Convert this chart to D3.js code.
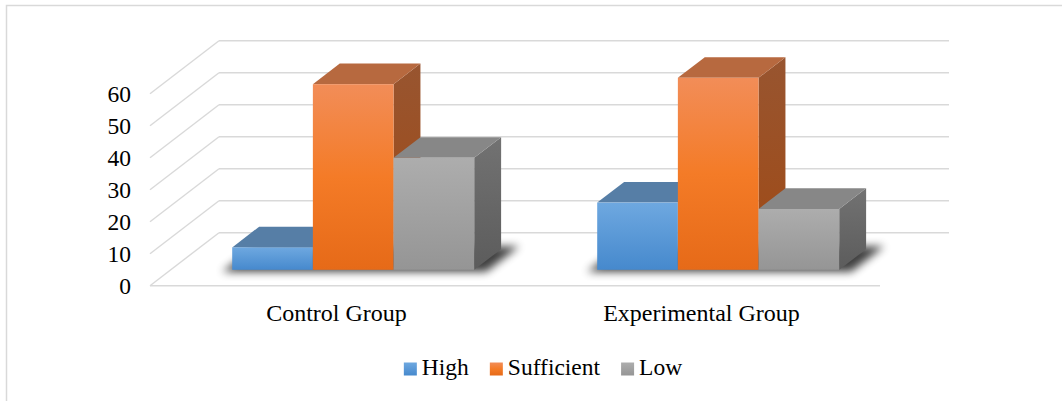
<!DOCTYPE html>
<html>
<head>
<meta charset="utf-8">
<script src="https://cdn.jsdelivr.net/npm/d3@7"></script>
<style>
  html, body { margin: 0; padding: 0; background: #fff; }
  svg { display: block; }
  svg text { font-family: "Liberation Serif", "DejaVu Serif", "Times New Roman", serif; }
</style>
</head>
<body>
<svg id="chart" width="1062" height="401"></svg>
<script>
// Data
const categories = ["Control Group", "Experimental Group"];
const seriesNames = ["High", "Sufficient", "Low"];
const high = [7, 21];
const sufficient = [58, 60];
const low = [35, 19];
const yTicks = [0, 10, 20, 30, 40, 50, 60];

const seriesValues = [high, sufficient, low];
const FONT = "'Liberation Serif', 'DejaVu Serif', 'Times New Roman', serif";

// Colours per series: front gradient (top, bottom), top face, side gradient (top, bottom)
const palette = {
  High:       { front: ["#6ea8e0", "#4689cd"], top: "#567ea6", side: ["#4a6f96", "#3d5f84"] },
  Sufficient: { front: ["#f28d58", "#e66a18"], top: "#b7693f", side: ["#985530", "#a04a15"] },
  Low:        { front: ["#adadad", "#959595"], top: "#878787", side: ["#727272", "#5c5c5c"] }
};

const svg = d3.select("#chart");
const defs = svg.append("defs");

// Outer chart frame
svg.append("rect")
  .attr("x", 6.5).attr("y", 5.5)
  .attr("width", 1100).attr("height", 500)
  .attr("fill", "none").attr("stroke", "#d9d9d9").attr("stroke-width", 1.5);

// 3D frame: back wall, with depth vector toward the viewer
const wall = { left: 219, right: 949, bottom: 232.7, top: 40.7 };
const depth = { dx: -69, dy: 53 };

const y = d3.scaleLinear().domain([0, 60]).range([wall.bottom, wall.top]);
const xCat = d3.scaleBand().domain(categories)
  .range([0, wall.right - wall.left])
  .paddingInner(0.337).paddingOuter(0.1685);
const xSer = d3.scaleBand().domain(seriesNames).range([0, xCat.bandwidth()]);

// Project (horizontal offset along wall, value, depth fraction 0=back..1=front)
function P(x, v, f) {
  return [wall.left + x + depth.dx * f, y(v) + depth.dy * f];
}
const pts = a => a.map(p => p.join(",")).join(" ");

// Gridlines: back wall + left side wall diagonals
const grid = svg.append("g").attr("stroke", "#d9d9d9").attr("stroke-width", 1.4).attr("fill", "none");
yTicks.forEach(t => {
  const b0 = P(0, t, 0), b1 = P(wall.right - wall.left, t, 0), f0 = P(0, t, 1);
  grid.append("line").attr("x1", b0[0]).attr("y1", b0[1]).attr("x2", b1[0]).attr("y2", b1[1]);
  grid.append("line").attr("x1", b0[0]).attr("y1", b0[1]).attr("x2", f0[0]).attr("y2", f0[1]);
});
// Front floor edge
{
  const a = P(0, 0, 1), b = P(wall.right - wall.left, 0, 1);
  grid.append("line").attr("x1", a[0]).attr("y1", a[1]).attr("x2", b[0]).attr("y2", b[1]);
}

// Y tick labels at the front edge
svg.append("g").selectAll("text").data(yTicks).join("text")
  .attr("x", d => P(0, d, 1)[0] - 19)
  .attr("y", d => P(0, d, 1)[1])
  .attr("dy", "0.34em")
  .attr("text-anchor", "end")
  .attr("font-family", FONT)
  .attr("font-size", 23.5)
  .attr("fill", "#000")
  .text(d => d);

// Category labels under the front edge
svg.append("g").selectAll("text").data(categories).join("text")
  .attr("x", d => P(xCat(d) + xCat.bandwidth() / 2, 0, 1)[0] + 4)
  .attr("y", P(0, 0, 1)[1] + 35)
  .attr("text-anchor", "middle")
  .attr("font-family", FONT)
  .attr("font-size", 24)
  .attr("fill", "#000")
  .text(d => d);

// Gradients
seriesNames.forEach((s, i) => {
  const c = palette[s];
  const gf = defs.append("linearGradient").attr("id", "front" + i)
    .attr("x1", 0).attr("y1", 0).attr("x2", 0).attr("y2", 1);
  gf.append("stop").attr("offset", "0%").attr("stop-color", c.front[0]);
  if (s === "Sufficient") gf.append("stop").attr("offset", "50%").attr("stop-color", "#f47b27");
  gf.append("stop").attr("offset", "100%").attr("stop-color", c.front[1]);
  const gs = defs.append("linearGradient").attr("id", "side" + i)
    .attr("x1", 0).attr("y1", 0).attr("x2", 0).attr("y2", 1);
  gs.append("stop").attr("offset", "0%").attr("stop-color", c.side[0]);
  gs.append("stop").attr("offset", "100%").attr("stop-color", c.side[1]);
});

const blur = defs.append("filter").attr("id", "shadow")
  .attr("x", "-30%").attr("y", "-100%").attr("width", "160%").attr("height", "300%");
blur.append("feGaussianBlur").attr("stdDeviation", 4.5);

// Bar depth span within the floor
const fBack = 0.31, fFront = 0.70;

const bars = svg.append("g");
categories.forEach((cat, ci) => {
  const g = bars.append("g");
  const x0 = xCat(cat), x1 = xCat(cat) + xCat.bandwidth();

  // Soft floor shadow under the group
  const sp = [
    [P(x0, 0, fFront)[0] - 10, P(x0, 0, fFront)[1] + 2],
    [P(x1, 0, fFront)[0] + 12, P(x1, 0, fFront)[1] + 2],
    [P(x1, 0, fBack)[0] + 18, P(x1, 0, fBack)[1] - 3],
    [P(x0, 0, fBack)[0] - 6, P(x0, 0, fBack)[1]]
  ];
  g.append("polygon").attr("points", pts(sp))
    .attr("fill", "#000").attr("opacity", 0.75).attr("filter", "url(#shadow)");

  seriesNames.forEach((s, si) => {
    const v = seriesValues[si][ci];
    const xl = x0 + xSer(s), xr = xl + xSer.bandwidth();
    const fl_b = P(xl, 0, fFront), fr_b = P(xr, 0, fFront);
    const fl_t = P(xl, v, fFront), fr_t = P(xr, v, fFront);
    const bl_t = P(xl, v, fBack), br_t = P(xr, v, fBack), br_b = P(xr, 0, fBack);

    // side face
    g.append("polygon").attr("points", pts([fr_t, br_t, br_b, fr_b]))
      .attr("fill", `url(#side${si})`);
    // top face
    g.append("polygon").attr("points", pts([fl_t, fr_t, br_t, bl_t]))
      .attr("fill", palette[s].top);
    // front face
    g.append("rect")
      .attr("x", fl_t[0]).attr("y", fl_t[1])
      .attr("width", fr_t[0] - fl_t[0]).attr("height", fl_b[1] - fl_t[1])
      .attr("fill", `url(#front${si})`);
  });
});

// Legend
const legend = svg.append("g");
const items = legend.selectAll("g").data(seriesNames).join("g");
items.append("rect").attr("width", 13).attr("height", 13).attr("y", -12.5)
  .attr("fill", (d, i) => `url(#front${i})`);
items.append("text").attr("x", 18).attr("y", 0)
  .attr("font-family", FONT)
  .attr("font-size", 23.5).attr("fill", "#000").text(d => d);
let cursor = 0;
items.each(function () {
  const w = d3.select(this).select("text").node().getComputedTextLength();
  d3.select(this).attr("transform", `translate(${cursor},0)`);
  cursor += 18 + w + 21;
});
const legendWidth = cursor - 21;
legend.attr("transform", `translate(${543 - legendWidth / 2},375)`);
</script>
</body>
</html>
